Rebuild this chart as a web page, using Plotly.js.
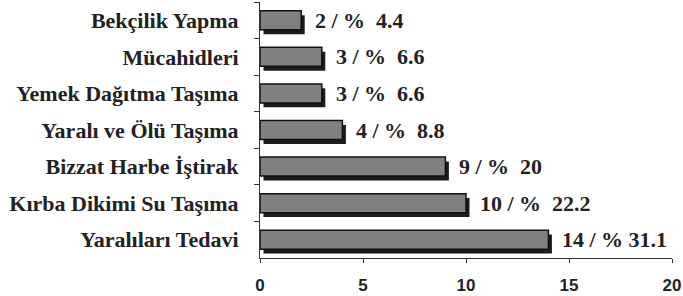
<!DOCTYPE html>
<html>
<head>
<meta charset="utf-8">
<script src="https://cdn.plot.ly/plotly-3.0.1.min.js"></script>
<style>html,body{margin:0;padding:0;background:#fff;}#chart{width:683px;height:296px;}</style>
</head>
<body>
<div id="chart"></div>
<script>
const categories = ["Bekçilik Yapma", "Mücahidleri", "Yemek Dağıtma Taşıma", "Yaralı ve Ölü Taşıma", "Bizzat Harbe İştirak", "Kırba Dikimi Su Taşıma", "Yaralıları Tedavi"];
const counts = [2, 3, 3, 4, 9, 10, 14];
const barLabels = ["2 / %\u00a0\u00a04.4", "3 / %\u00a0\u00a06.6", "3 / %\u00a0\u00a06.6", "4 / %\u00a0\u00a08.8", "9 / %\u00a0\u00a020", "10 / %\u00a0\u00a022.2", "14 / %\u00a031.1"];
const xTicks = [0, 5, 10, 15, 20];

const serif = '"Liberation Serif", "Times New Roman", Times, serif';
const W = 0.52;
const shadow = {
  type: 'bar', orientation: 'h', y: categories, x: counts,
  base: 0.17, width: W, offset: -W / 2 + 0.12,
  marker: {color: '#1c1c1c', line: {width: 0}},
  hoverinfo: 'skip', showlegend: false
};
const main = {
  type: 'bar', orientation: 'h', y: categories, x: counts,
  width: W, offset: -W / 2,
  marker: {color: '#808080', line: {color: '#111', width: 1.5}},
  showlegend: false
};
const annotations = categories.map((c, i) => ({
  x: counts[i], y: c, xref: 'x', yref: 'y',
  text: barLabels[i],
  showarrow: false, xanchor: 'left', xshift: 12, yshift: 0,
  font: {family: serif, size: 22, color: '#222', weight: 'bold'}
}));

Plotly.newPlot('chart', [shadow, main], {
  width: 683, height: 296,
  margin: {l: 260, r: 11, t: 2, b: 38},
  paper_bgcolor: '#fff', plot_bgcolor: '#fff',
  barmode: 'overlay',
  xaxis: {
    range: [0, 20], tickvals: xTicks, ticktext: xTicks.map(String),
    showgrid: false, zeroline: false, showline: true, linecolor: '#333', linewidth: 1,
    ticks: 'outside', ticklen: 4, tickcolor: '#333',
    tickfont: {family: '"Liberation Sans", Arial, sans-serif', size: 17, color: '#222', weight: 'bold'},
    ticklabelstandoff: 8
  },
  yaxis: {
    type: 'category', autorange: 'reversed',
    showgrid: false, zeroline: false, showline: true, linecolor: '#333', linewidth: 1,
    ticks: 'outside', ticklen: 5, tickcolor: '#333', tickson: 'boundaries',
    tickfont: {family: serif, size: 22, color: '#222', weight: 'bold'},
    ticklabelstandoff: 16
  },
  annotations: annotations
}, {staticPlot: true});
</script>
</body>
</html>
